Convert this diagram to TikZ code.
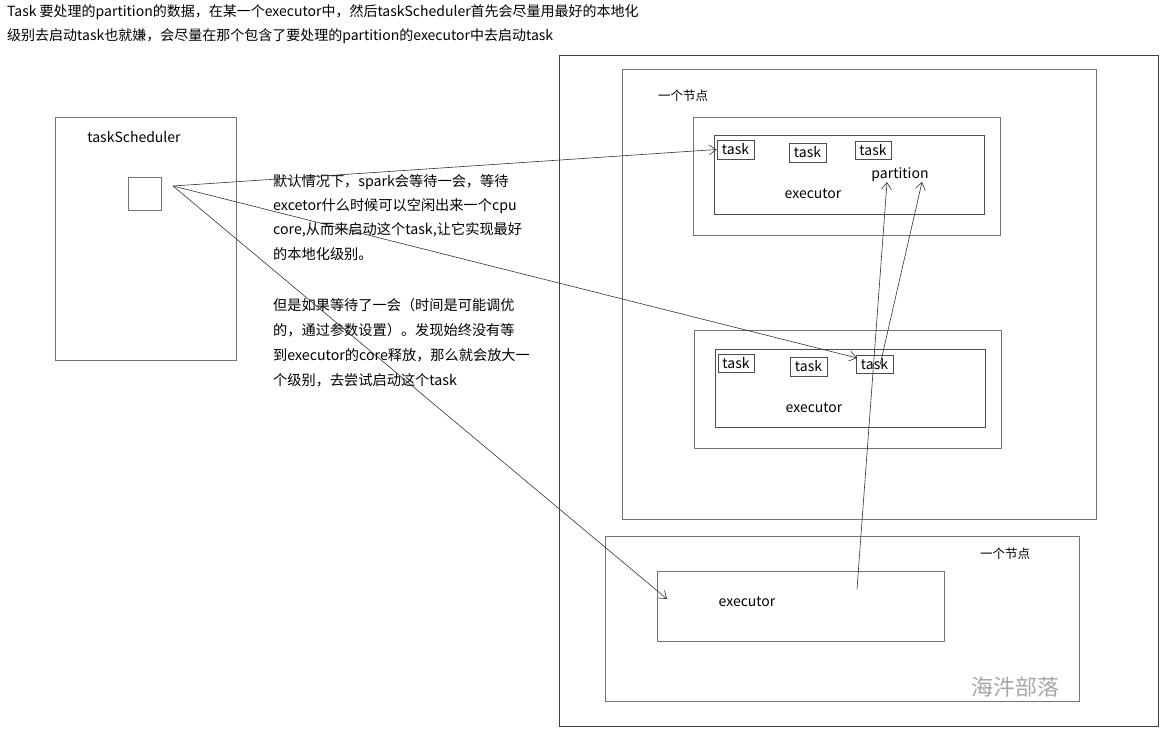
\documentclass[tikz,border=0pt]{standalone}
\usepackage{fontspec}
\setmainfont{Noto Sans CJK SC}
\usetikzlibrary{arrows.meta}
\tikzset{
  box/.style={draw=black!55,line width=0.8pt,inner sep=0pt,fill=none},
  tbox/.style={box,draw=black!70,font=\fontsize{14}{14}\selectfont},
  txt/.style={font=\fontsize{14.2}{16}\selectfont,anchor=base west,inner sep=0pt},
  lbl/.style={font=\fontsize{14}{16}\selectfont,inner sep=0pt},
  conn/.style={draw=black!80,line width=0.6pt,-{Straight Barb[length=7pt,width=10pt]}},
}
\begin{document}
\begin{tikzpicture}[x=1pt,y=-1pt]
  \useasboundingbox (0,0) rectangle (1162,735);
  % top note
  \node[txt,font=\fontsize{14}{16}\selectfont] (note1) at (7,17) {Task 要处理的partition的数据，在某一个executor中，然后taskScheduler首先会尽量用最好的本地化};
  \node[txt,font=\fontsize{14}{16}\selectfont] (note2) at (7,41) {级别去启动task也就嫌，会尽量在那个包含了要处理的partition的executor中去启动task};
  % scheduler
  \node[box,minimum width=181,minimum height=243] (sched) at (145.5,238.5) {};
  \node[lbl] (schedl) at (134,137) {taskScheduler};
  \node[box,minimum width=33,minimum height=33] (sq) at (144.5,193.5) {};
  \coordinate (src) at (173,186);
  % cluster
  \node[box,draw=black!75,minimum width=599,minimum height=671] (cluster) at (858.5,390.5) {};
  \node[box,minimum width=474,minimum height=450] (nodeA) at (859,294) {};
  \node[lbl,font=\fontsize{12.5}{15}\selectfont] (nodeAl) at (683,96) {一个节点};
  \node[box,minimum width=307,minimum height=118] (exAo) at (846.5,176) {};
  \node[box,draw=black!70,minimum width=270,minimum height=79] (exA) at (849,174.5) {};
  \node[tbox,minimum width=37,minimum height=19] (tA1) at (735.5,149.5) {\raisebox{-4pt}{task}};
  \node[tbox,minimum width=37,minimum height=19] (tA2) at (807.5,152.5) {\raisebox{-4pt}{task}};
  \node[tbox,minimum width=36,minimum height=18] (tA3) at (873,150) {\raisebox{-3pt}{task}};
  \node[lbl] (part) at (900,175) {partition};
  \node[lbl] (exAl) at (813,194) {executor};
  \node[box,minimum width=307,minimum height=118] (exBo) at (847.5,389) {};
  \node[box,draw=black!70,minimum width=270,minimum height=78] (exB) at (850,388) {};
  \node[tbox,minimum width=36,minimum height=18] (tB1) at (736,363) {\raisebox{-4pt}{task}};
  \node[tbox,minimum width=37,minimum height=19] (tB2) at (808.5,366.5) {\raisebox{-4pt}{task}};
  \node[tbox,minimum width=37,minimum height=18] (tB3) at (874.5,364) {\raisebox{-3pt}{task}};
  \node[lbl] (exBl) at (814,408) {executor};
  \node[box,minimum width=474,minimum height=165] (nodeB) at (842,618.5) {};
  \node[lbl,font=\fontsize{12.5}{15}\selectfont] (nodeBl) at (1005,554) {一个节点};
  \node[box,minimum width=287,minimum height=70] (exC) at (800.5,606) {};
  \node[lbl] (exCl) at (747,602) {executor};
  \node[lbl,font=\fontsize{22}{24}\selectfont,text=black!35] (mark) at (1015,687) {海汼部落};
  % explanation
  \node[txt] (ex1) at (273,187) {默认情况下，spark会等待一会，等待};
  \node[txt] (ex2) at (273,211) {excetor什么时候可以空闲出来一个cpu};
  \node[txt] (ex3) at (273,235) {core,从而来启动这个task,让它实现最好};
  \node[txt] (ex4) at (273,260) {的本地化级别。};
  \node[txt] (ex5) at (273,311) {但是如果等待了一会（时间是可能调优};
  \node[txt] (ex6) at (273,335) {的，通过参数设置）。发现始终没有等};
  \node[txt] (ex7) at (273,360) {到executor的core释放，那么就会放大一};
  \node[txt] (ex8) at (273,385) {个级别，去尝试启动这个task};
  % connectors
  \coordinate (endB) at (857,358);
  \coordinate (endC) at (667,599);
  \coordinate (fromC) at (857,589);
  \coordinate (fromB) at (880,365);
  \coordinate (partL) at (887,182);
  \coordinate (partR) at (922,182);
  \draw[conn] (src) -- (tA1.west);
  \draw[conn] (src) -- (endB);
  \draw[conn] (src) -- (endC);
  \draw[conn] (fromC) -- (partL);
  \draw[conn] (fromB) -- (partR);
\end{tikzpicture}
\end{document}
